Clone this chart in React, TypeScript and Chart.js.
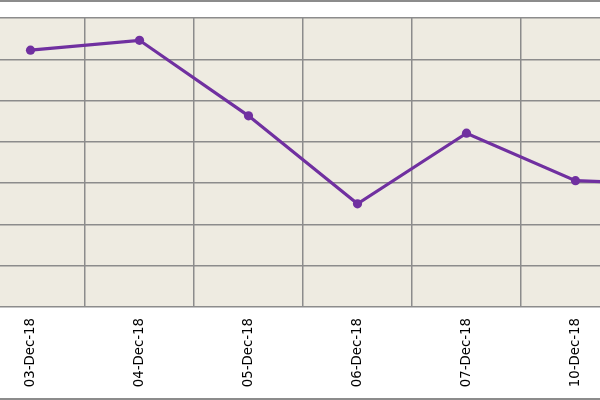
import React, { useEffect, useRef } from "react";
import { Chart, registerables } from "chart.js";

Chart.register(...registerables);

const categories = ["03-Dec-18", "04-Dec-18", "05-Dec-18", "06-Dec-18", "07-Dec-18", "10-Dec-18", "11-Dec-18"];
const seriesValues = [62.2, 64.6, 46.3, 25.0, 42.1, 30.6, 29.6];
const yMin = 0;
const yMax = 70;
const yStep = 10;

export default function App() {
  const ref = useRef<HTMLCanvasElement | null>(null);

  useEffect(() => {
    if (!ref.current) return;
    const chart = new Chart(ref.current, {
      type: "line",
      data: {
        labels: categories,
        datasets: [
          {
            data: seriesValues,
            borderColor: "#7030A0",
            backgroundColor: "#7030A0",
            borderWidth: 3.2,
            pointRadius: 4.6,
            pointBorderWidth: 0,
            pointBackgroundColor: "#7030A0",
            tension: 0,
            fill: false,
          },
        ],
      },
      options: {
        animation: false,
        responsive: false,
        maintainAspectRatio: false,
        layout: { autoPadding: false, padding: { top: 18, left: 0, right: 0, bottom: 0 } },
        plugins: {
          legend: { display: false },
          tooltip: { enabled: false },
        },
        scales: {
          x: {
            type: "category",
            offset: true,
            grid: { offset: true, color: "#8c8c8c", lineWidth: 1.5, drawTicks: false },
            border: { display: false },
            ticks: {
              minRotation: 90,
              maxRotation: 90,
              padding: 11,
              autoSkip: false,
              color: "#000000",
              font: { family: "'DejaVu Sans', sans-serif", size: 13.3 },
            },
            afterFit: (scale: any) => {
              scale.height = 93;
              scale.paddingLeft = 0;
              scale.paddingRight = 0;
            },
          },
          y: {
            min: yMin,
            max: yMax,
            ticks: { stepSize: yStep, display: false },
            grid: { color: "#8c8c8c", lineWidth: 1.5, drawTicks: false },
            border: { display: false },
            afterFit: (scale: any) => {
              scale.width = 0;
              scale.paddingTop = 0;
              scale.paddingBottom = 0;
            },
          },
        },
      },
      plugins: [
        {
          id: "plotBg",
          beforeDraw: (c: any) => {
            const { ctx, chartArea } = c;
            ctx.save();
            ctx.fillStyle = "#EEEBE1";
            ctx.fillRect(chartArea.left, chartArea.top, chartArea.right - chartArea.left, chartArea.bottom - chartArea.top);
            ctx.restore();
          },
        },
      ],
    });
    return () => chart.destroy();
  }, []);

  return (
    <div
      style={{
        position: "fixed",
        left: 0,
        top: 0,
        width: 600,
        height: 400,
        overflow: "hidden",
        background: "#ffffff",
      }}
    >
      <canvas
        ref={ref}
        width={763}
        height={400}
        style={{ position: "absolute", left: -24.5, top: 0, width: 763, height: 400 }}
      />
      <div style={{ position: "absolute", left: 0, top: 0, width: 600, height: 2, background: "#8c8c8c" }} />
      <div style={{ position: "absolute", left: 0, top: 398, width: 600, height: 2, background: "#8c8c8c" }} />
    </div>
  );
}
